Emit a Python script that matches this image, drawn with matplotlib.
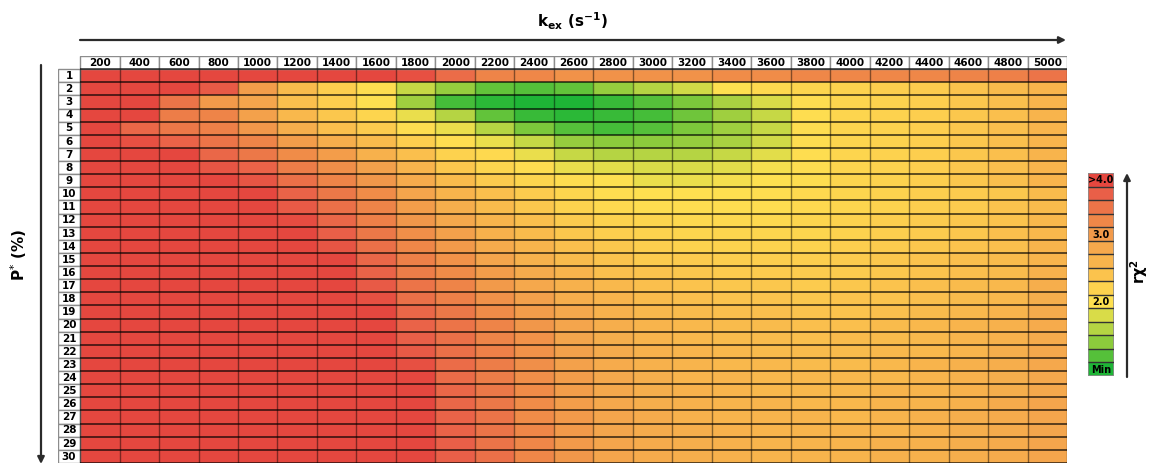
import numpy as np
import matplotlib
matplotlib.use('Agg')
import matplotlib.pyplot as plt
from matplotlib.colors import LinearSegmentedColormap, Normalize
from matplotlib.patches import Rectangle

# exchange rate kex (s-1) columns, population P* (%) rows
kex = [200, 400, 600, 800, 1000, 1200, 1400, 1600, 1800, 2000, 2200, 2400, 2600,
       2800, 3000, 3200, 3400, 3600, 3800, 4000, 4200, 4400, 4600, 4800, 5000]
pop = list(range(1, 31))

# reduced chi2 (values above 4 shown as saturated red)
rchi2 = [
    [4.2, 4.2, 4.2, 4.2, 4.2, 4.2, 4.2, 4.2, 3.9, 3.6, 3.3, 3.25, 3.1, 3.1, 3.1, 3.1, 3.2, 3.2, 3.25, 3.25, 3.25, 3.25, 3.3, 3.35, 3.5],
    [4.2, 4.2, 4.2, 3.8, 2.95, 2.5, 2.25, 2.05, 1.7, 1.45, 1.25, 1.2, 1.25, 1.45, 1.6, 1.75, 2.0, 2.1, 2.15, 2.2, 2.25, 2.3, 2.4, 2.5, 2.6],
    [4.2, 4.2, 3.5, 3.0, 2.85, 2.45, 2.25, 2.0, 1.5, 1.15, 1.05, 1.0, 1.0, 1.1, 1.2, 1.35, 1.55, 1.8, 2.05, 2.15, 2.2, 2.25, 2.35, 2.45, 2.6],
    [4.2, 4.2, 3.4, 3.3, 2.9, 2.55, 2.35, 2.15, 1.9, 1.6, 1.25, 1.1, 1.05, 1.1, 1.15, 1.3, 1.5, 1.7, 2.05, 2.15, 2.2, 2.25, 2.35, 2.45, 2.6],
    [4.2, 3.65, 3.45, 3.35, 3.05, 2.7, 2.45, 2.3, 2.05, 1.9, 1.6, 1.35, 1.2, 1.15, 1.2, 1.35, 1.5, 1.7, 2.05, 2.15, 2.2, 2.25, 2.35, 2.45, 2.6],
    [4.2, 3.9, 3.7, 3.5, 3.3, 2.95, 2.7, 2.5, 2.25, 2.05, 1.9, 1.7, 1.45, 1.4, 1.4, 1.45, 1.55, 1.75, 2.05, 2.15, 2.2, 2.25, 2.35, 2.45, 2.6],
    [4.2, 4.2, 4.0, 3.65, 3.45, 3.2, 2.95, 2.65, 2.45, 2.2, 2.1, 1.9, 1.7, 1.6, 1.6, 1.6, 1.7, 1.85, 2.05, 2.15, 2.2, 2.25, 2.35, 2.45, 2.6],
    [4.2, 4.2, 4.2, 3.85, 3.7, 3.4, 3.15, 2.9, 2.6, 2.35, 2.15, 2.05, 1.9, 1.85, 1.8, 1.8, 1.85, 1.95, 2.05, 2.15, 2.2, 2.25, 2.35, 2.45, 2.6],
    [4.2, 4.2, 4.2, 4.2, 3.85, 3.55, 3.3, 3.05, 2.75, 2.5, 2.3, 2.15, 2.05, 2.0, 1.9, 1.9, 1.95, 2.0, 2.05, 2.15, 2.2, 2.25, 2.35, 2.45, 2.6],
    [4.2, 4.2, 4.2, 4.2, 4.1, 3.7, 3.45, 3.2, 2.85, 2.6, 2.45, 2.3, 2.15, 2.05, 2.0, 2.0, 2.0, 2.05, 2.1, 2.15, 2.2, 2.25, 2.3, 2.35, 2.5],
    [4.2, 4.2, 4.2, 4.2, 4.2, 3.8, 3.55, 3.3, 2.95, 2.7, 2.5, 2.35, 2.2, 2.1, 2.05, 2.05, 2.05, 2.05, 2.1, 2.15, 2.2, 2.25, 2.3, 2.4, 2.5],
    [4.2, 4.2, 4.2, 4.2, 4.2, 3.95, 3.65, 3.35, 3.05, 2.8, 2.6, 2.45, 2.3, 2.2, 2.15, 2.1, 2.1, 2.1, 2.15, 2.2, 2.25, 2.3, 2.35, 2.4, 2.55],
    [4.2, 4.2, 4.2, 4.2, 4.2, 4.1, 3.75, 3.45, 3.15, 2.9, 2.65, 2.5, 2.35, 2.25, 2.2, 2.15, 2.15, 2.15, 2.15, 2.2, 2.25, 2.3, 2.35, 2.45, 2.55],
    [4.2, 4.2, 4.2, 4.2, 4.2, 4.2, 3.85, 3.55, 3.25, 3.0, 2.75, 2.6, 2.45, 2.35, 2.25, 2.2, 2.2, 2.2, 2.2, 2.25, 2.3, 2.35, 2.4, 2.45, 2.6],
    [4.2, 4.2, 4.2, 4.2, 4.2, 4.2, 4.0, 3.65, 3.35, 3.1, 2.85, 2.65, 2.5, 2.4, 2.3, 2.3, 2.25, 2.25, 2.25, 2.3, 2.35, 2.4, 2.45, 2.5, 2.6],
    [4.2, 4.2, 4.2, 4.2, 4.2, 4.2, 4.1, 3.7, 3.4, 3.2, 2.95, 2.75, 2.6, 2.45, 2.4, 2.35, 2.3, 2.3, 2.3, 2.3, 2.35, 2.4, 2.45, 2.5, 2.65],
    [4.2, 4.2, 4.2, 4.2, 4.2, 4.2, 4.2, 3.8, 3.5, 3.3, 3.0, 2.8, 2.65, 2.55, 2.45, 2.4, 2.35, 2.35, 2.3, 2.35, 2.4, 2.45, 2.5, 2.55, 2.7],
    [4.2, 4.2, 4.2, 4.2, 4.2, 4.2, 4.2, 3.9, 3.55, 3.35, 3.1, 2.9, 2.7, 2.6, 2.5, 2.45, 2.4, 2.4, 2.35, 2.4, 2.4, 2.45, 2.5, 2.55, 2.7],
    [4.2, 4.2, 4.2, 4.2, 4.2, 4.2, 4.2, 4.0, 3.65, 3.45, 3.2, 2.95, 2.8, 2.65, 2.55, 2.5, 2.45, 2.45, 2.4, 2.4, 2.45, 2.5, 2.55, 2.6, 2.75],
    [4.2, 4.2, 4.2, 4.2, 4.2, 4.2, 4.2, 4.1, 3.7, 3.5, 3.3, 3.05, 2.85, 2.7, 2.6, 2.55, 2.5, 2.5, 2.45, 2.45, 2.5, 2.55, 2.6, 2.65, 2.75],
    [4.2, 4.2, 4.2, 4.2, 4.2, 4.2, 4.2, 4.2, 3.75, 3.55, 3.3, 3.1, 2.85, 2.7, 2.6, 2.55, 2.5, 2.5, 2.45, 2.5, 2.5, 2.55, 2.6, 2.65, 2.75],
    [4.2, 4.2, 4.2, 4.2, 4.2, 4.2, 4.2, 4.2, 3.8, 3.55, 3.35, 3.1, 2.9, 2.75, 2.65, 2.6, 2.55, 2.5, 2.5, 2.5, 2.55, 2.55, 2.6, 2.7, 2.8],
    [4.2, 4.2, 4.2, 4.2, 4.2, 4.2, 4.2, 4.2, 3.9, 3.6, 3.4, 3.15, 2.9, 2.75, 2.65, 2.6, 2.55, 2.55, 2.5, 2.5, 2.55, 2.6, 2.65, 2.7, 2.8],
    [4.2, 4.2, 4.2, 4.2, 4.2, 4.2, 4.2, 4.2, 4.0, 3.6, 3.4, 3.15, 2.95, 2.8, 2.7, 2.6, 2.6, 2.55, 2.55, 2.55, 2.55, 2.6, 2.65, 2.7, 2.8],
    [4.2, 4.2, 4.2, 4.2, 4.2, 4.2, 4.2, 4.2, 4.0, 3.65, 3.45, 3.2, 2.95, 2.8, 2.7, 2.65, 2.6, 2.55, 2.55, 2.55, 2.6, 2.6, 2.65, 2.7, 2.8],
    [4.2, 4.2, 4.2, 4.2, 4.2, 4.2, 4.2, 4.2, 4.1, 3.65, 3.45, 3.2, 2.95, 2.8, 2.7, 2.65, 2.6, 2.6, 2.55, 2.55, 2.6, 2.6, 2.65, 2.75, 2.85],
    [4.2, 4.2, 4.2, 4.2, 4.2, 4.2, 4.2, 4.2, 4.1, 3.7, 3.5, 3.2, 3.0, 2.85, 2.75, 2.65, 2.6, 2.6, 2.6, 2.55, 2.6, 2.65, 2.7, 2.75, 2.85],
    [4.2, 4.2, 4.2, 4.2, 4.2, 4.2, 4.2, 4.2, 4.1, 3.7, 3.5, 3.25, 3.0, 2.85, 2.75, 2.7, 2.65, 2.6, 2.6, 2.6, 2.6, 2.65, 2.7, 2.75, 2.85],
    [4.2, 4.2, 4.2, 4.2, 4.2, 4.2, 4.2, 4.2, 4.2, 3.75, 3.5, 3.25, 3.0, 2.85, 2.75, 2.7, 2.65, 2.6, 2.6, 2.6, 2.65, 2.65, 2.7, 2.75, 2.85],
    [4.2, 4.2, 4.2, 4.2, 4.2, 4.2, 4.2, 4.2, 4.2, 3.75, 3.55, 3.25, 3.05, 2.85, 2.75, 2.7, 2.65, 2.6, 2.6, 2.6, 2.65, 2.65, 2.7, 2.75, 2.85],
]

# colour key, top to bottom
cbar_vals = [4.0, 3.75, 3.5, 3.25, 3.0, 2.8, 2.6, 2.4, 2.2, 2.0, 1.8, 1.6, 1.4, 1.2, 1.0]
cbar_colors = ['#e5473f', '#e95f48', '#ec7548', '#ef8848', '#f29a4a', '#f5a84c', '#f8b44c',
               '#fbc34d', '#fdd24e', '#fee050', '#d9dc48', '#b5d443', '#8ccb3c', '#55c03a', '#1eb536']
cbar_text = {4.0: '>4.0', 3.0: '3.0', 2.0: '2.0', 1.0: 'Min'}

pairs = sorted(zip(cbar_vals, cbar_colors))
cmap = LinearSegmentedColormap.from_list('rchi2', [((v - 1.0) / 3.0, c) for v, c in pairs])
norm = Normalize(1.0, 4.0)

W, H = 1149, 465
fig = plt.figure(figsize=(W / 100, H / 100), dpi=100)


def box(l, t, r, b):
    return [l / W, 1 - b / H, (r - l) / W, (b - t) / H]


lab_font = dict(family=['Liberation Sans Narrow', 'DejaVu Sans'], fontweight='bold', fontsize=7.5)

# main table
ax = fig.add_axes(box(58, 56, 1067, 463))
nr, nc = len(pop), len(kex)
lw_lab = 0.56
ax.set_xlim(-lw_lab, nc)
ax.set_ylim(nr, -1)
ax.axis('off')
Z = np.array(rchi2)
ax.pcolormesh(np.arange(nc + 1), np.arange(nr + 1), Z, cmap=cmap, norm=norm, shading='flat')
ax.hlines(np.arange(nr + 1), 0, nc, colors='black', lw=1.1, alpha=0.8)
ax.vlines(np.arange(nc + 1), 0, nr, colors='black', lw=1.0, alpha=0.45)

for j, k in enumerate(kex):
    ax.add_patch(Rectangle((j, -1), 1, 1, fc='white', ec='#8c8c8c', lw=1.0))
    ax.text(j + 0.5, -0.48, str(k), ha='center', va='center', **lab_font)
for i, p in enumerate(pop):
    ax.add_patch(Rectangle((-lw_lab, i), lw_lab, 1, fc='white', ec='#8c8c8c', lw=1.0))
    ax.text(-lw_lab / 2, i + 0.52, str(p), ha='center', va='center', **lab_font)

# colour key
cax = fig.add_axes(box(1088, 173, 1114, 376))
cax.set_xlim(0, 1)
cax.set_ylim(len(cbar_vals), 0)
cax.axis('off')
cax.pcolormesh([0, 1], np.arange(len(cbar_vals) + 1), np.array(cbar_vals)[:, None],
               cmap=cmap, norm=norm, shading='flat')
cax.hlines(np.arange(1, len(cbar_vals)), 0, 1, colors='#333333', lw=1.0)
cax.add_patch(Rectangle((0, 0), 1, len(cbar_vals), fill=False, ec='#8c8c8c', lw=1.2))
for i, v in enumerate(cbar_vals):
    if v in cbar_text:
        cax.text(0.5, i + 0.55, cbar_text[v], ha='center', va='center',
                 family=['Liberation Sans Narrow', 'DejaVu Sans'], fontweight='bold', fontsize=7)

# arrows and axis titles
ov = fig.add_axes([0, 0, 1, 1], zorder=-1)
ov.set_xlim(0, W)
ov.set_ylim(H, 0)
ov.axis('off')
arrow = dict(arrowstyle='-|>', color='#2b2b2b', lw=1.6, mutation_scale=10, shrinkA=0, shrinkB=0)
ov.annotate('', xy=(1066, 40), xytext=(80, 40), arrowprops=arrow)
ov.annotate('', xy=(41, 464), xytext=(41, 65), arrowprops=arrow)
ov.annotate('', xy=(1127, 173), xytext=(1127, 377), arrowprops=arrow)

fig.text(572 / W, 1 - 21 / H, r'k$_{\mathbf{ex}}$ (s$^{\mathbf{-1}}$)', ha='center', va='center',
         fontsize=11, fontweight='bold')
fig.text(19 / W, 1 - 255 / H, r'P$^{*}$ (%)', ha='center', va='center', rotation=90,
         fontsize=11, fontweight='bold')
fig.text(1139 / W, 1 - 272 / H, r'r$\mathbf{\chi}^{\mathbf{2}}$', ha='center', va='center', rotation=90,
         fontsize=10.5, fontweight='bold')

fig.savefig('out.png', dpi=100)
